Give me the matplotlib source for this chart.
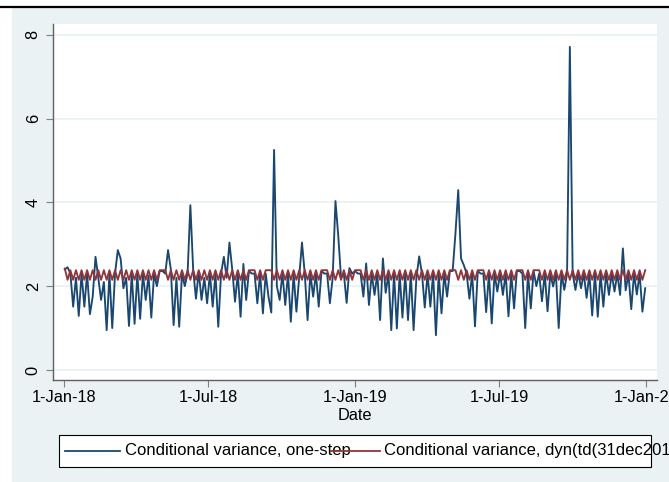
import numpy as np
import pandas as pd
import matplotlib
matplotlib.use("Agg")
import matplotlib.pyplot as plt
import matplotlib.dates as mdates
from matplotlib.patches import Rectangle

plt.rcParams['font.family'] = ['Liberation Sans', 'DejaVu Sans']

# ---- data (weekly readings: first point ~day 1 of week, second ~mid-week) ----
week_start = pd.date_range('2018-01-01', periods=105, freq='7D')

blue_a = [2.40, 2.30, 2.20, 2.30, 2.30, 1.75, 2.20, 2.10, 2.30, 2.30,
          2.66, 2.20, 2.30, 2.30, 2.30, 2.25, 2.30, 2.36, 2.30, 2.40,
          2.20, 2.30, 2.30, 2.40, 2.35, 2.20, 2.30, 2.30, 2.30, 2.20,
          2.40, 2.30, 2.53, 2.36, 2.30, 2.30, 2.30, 1.37, 2.00, 2.30,
          2.30, 2.30, 2.20, 2.30, 2.30, 2.30, 2.36, 2.30, 2.20, 3.20,
          2.30, 2.43, 2.36, 2.30, 2.54, 2.30, 2.30, 2.66, 2.30, 2.30,
          2.30, 2.30, 2.30, 2.20, 2.30, 2.30, 2.30, 2.30, 2.30, 2.36,
          3.26, 2.66, 2.30, 2.30, 2.36, 2.30, 2.30, 2.30, 2.30, 2.30,
          2.30, 2.36, 2.30, 2.30, 2.36, 2.30, 2.30, 2.30, 2.30, 2.30,
          2.30, 2.30, 2.30, 2.30, 2.30, 2.30, 2.30, 2.30, 2.30, 2.30,
          2.90, 2.30, 2.30, 2.30, 1.95]
blue_b = [2.45, 1.51, 1.29, 1.51, 1.33, 2.70, 1.67, 0.95, 1.00, 2.86,
          1.95, 1.05, 1.10, 1.22, 1.67, 1.25, 2.00, 2.36, 2.86, 1.07,
          1.03, 2.00, 3.93, 1.70, 1.67, 1.59, 1.51, 1.03, 2.70, 3.04,
          1.63, 1.27, 1.67, 2.30, 1.59, 1.35, 1.75, 5.25, 1.67, 1.55,
          1.15, 1.39, 3.04, 1.19, 1.75, 1.51, 2.30, 1.59, 4.03, 2.20,
          1.60, 2.30, 2.30, 1.75, 1.55, 1.79, 1.19, 1.84, 0.95, 0.99,
          1.25, 1.19, 0.95, 2.71, 1.49, 1.51, 0.83, 1.35, 1.75, 2.36,
          4.29, 2.50, 1.70, 1.04, 2.30, 1.38, 1.11, 1.87, 1.79, 1.28,
          1.47, 2.36, 1.00, 1.47, 2.00, 1.64, 1.40, 1.99, 1.00, 1.91,
          7.71, 1.91, 1.95, 1.72, 1.30, 1.27, 1.51, 1.79, 1.87, 1.79,
          1.90, 1.45, 1.80, 1.39]

red_a = [2.42, 2.38, 2.38, 2.38, 2.38, 2.38, 2.38, 2.38, 2.38, 2.38,
         2.38, 2.38, 2.38, 2.38, 2.38, 2.38, 2.38, 2.38, 2.38, 2.38,
         2.38, 2.38, 2.38, 2.38, 2.38, 2.38, 2.38, 2.38, 2.38, 2.38,
         2.38, 2.38, 2.38, 2.38, 2.38, 2.38, 2.38, 2.38, 2.38, 2.38,
         2.38, 2.38, 2.38, 2.38, 2.38, 2.38, 2.38, 2.38, 2.38, 2.38,
         2.38, 2.38, 2.38, 2.38, 2.38, 2.38, 2.38, 2.38, 2.38, 2.38,
         2.38, 2.38, 2.38, 2.38, 2.38, 2.38, 2.38, 2.38, 2.38, 2.38,
         2.38, 2.38, 2.38, 2.38, 2.38, 2.38, 2.38, 2.38, 2.38, 2.38,
         2.38, 2.38, 2.38, 2.38, 2.38, 2.38, 2.38, 2.38, 2.38, 2.38,
         2.38, 2.38, 2.38, 2.38, 2.38, 2.38, 2.38, 2.38, 2.38, 2.38,
         2.38, 2.38, 2.38, 2.38, 2.38]
red_b = [2.15, 2.15, 2.15, 2.15, 2.15, 2.15, 2.15, 2.15, 2.15, 2.15,
         2.15, 2.15, 2.15, 2.15, 2.15, 2.15, 2.15, 2.38, 2.15, 2.15,
         2.15, 2.15, 2.15, 2.15, 2.15, 2.15, 2.15, 2.15, 2.15, 2.15,
         2.15, 2.15, 2.15, 2.38, 2.15, 2.15, 2.38, 2.15, 2.15, 2.15,
         2.15, 2.15, 2.15, 2.15, 2.15, 2.15, 2.38, 2.15, 2.15, 2.15,
         2.15, 2.15, 2.38, 2.15, 2.15, 2.15, 2.15, 2.15, 2.15, 2.15,
         2.15, 2.15, 2.15, 2.15, 2.15, 2.15, 2.15, 2.15, 2.15, 2.38,
         2.15, 2.15, 2.15, 2.15, 2.38, 2.15, 2.15, 2.15, 2.15, 2.15,
         2.15, 2.38, 2.15, 2.15, 2.38, 2.15, 2.15, 2.15, 2.15, 2.15,
         2.15, 2.15, 2.15, 2.15, 2.15, 2.15, 2.15, 2.15, 2.15, 2.15,
         2.15, 2.15, 2.15, 2.15]

tick_dates = ['2018-01-01', '2018-07-01', '2019-01-01', '2019-07-01', '2020-01-01']
tick_labels = ['1-Jan-18', '1-Jul-18', '1-Jan-19', '1-Jul-19', '1-Jan-20']
y_ticks = [0, 2, 4, 6, 8]
legend_labels = ['Conditional variance, one-step',
                 'Conditional variance, dyn(td(31dec2019))']
x_label = 'Date'


def interleave(a, b):
    xs, ys = [], []
    for i, ws in enumerate(week_start):
        xs.append(ws + pd.Timedelta(days=1))
        ys.append(a[i])
        if i < len(b):
            xs.append(ws + pd.Timedelta(hours=108))
            ys.append(b[i])
    return xs, ys


bx, by = interleave(blue_a, blue_b)
rx, ry = interleave(red_a, red_b)

NAVY = '#1A476F'
MAROON = '#90353B'
BG = '#EAF2F3'
W, H = 669, 482
FS = 11.8
LFS = 12.0

fig = plt.figure(figsize=(W / 100, H / 100), dpi=100)
fig.patch.set_facecolor('white')

# background / frame axes in pixel coordinates
bg = fig.add_axes([0, 0, 1, 1], zorder=0)
bg.set_xlim(0, W)
bg.set_ylim(H, 0)
bg.axis('off')
bg.add_patch(Rectangle((12, 7.5), W - 12, H - 7.5, facecolor=BG, edgecolor='none'))
bg.plot([0, W], [6.5, 6.5], color='black', lw=1.6, solid_capstyle='butt')

# legend (manual, Stata-like overlapping keys)
bg.add_patch(Rectangle((59, 435), 592, 32, facecolor='white', edgecolor='black', lw=0.8))
ly = 451.0
bg.plot([65, 120], [ly, ly], color=NAVY, lw=1.3)
bg.text(125, ly, legend_labels[0], fontsize=LFS, va='center', ha='left', color='black')
bg.plot([331, 380], [ly, ly], color=MAROON, lw=1.3, zorder=5)
bg.text(384, ly, legend_labels[1], fontsize=LFS, va='center', ha='left', color='black')

# main plot
ax = fig.add_axes([53 / W, 1 - 380 / H, (657 - 53) / W, (380 - 24) / H], zorder=1)
ax.set_facecolor('white')
ax.plot(bx, by, color=NAVY, lw=1.35, zorder=3)
ax.plot(rx, ry, color=MAROON, lw=1.35, zorder=4)

x0 = pd.Timestamp('2018-01-01')
ax.set_xlim(x0 - pd.Timedelta(days=13.8), x0 + pd.Timedelta(days=743.8))
ax.set_ylim(-0.24, 8.255)

ax.set_yticks(y_ticks)
ax.set_yticklabels([str(v) for v in y_ticks], rotation=90, va='center')
ax.set_xticks(pd.to_datetime(tick_dates))
ax.set_xticklabels(tick_labels)
ax.yaxis.grid(True, color=BG, lw=1.3, zorder=0)
ax.set_axisbelow(True)

for s in ['top', 'right']:
    ax.spines[s].set_visible(False)
for s in ['left', 'bottom']:
    ax.spines[s].set_color('#606060')
    ax.spines[s].set_linewidth(1.0)

ax.tick_params(axis='y', length=5, width=0.8, color='#808080', pad=3.9, labelsize=FS)
ax.tick_params(axis='x', length=5, width=0.8, color='#808080', pad=2.4, labelsize=FS)
ax.set_xlabel(x_label, fontsize=FS, labelpad=2.0)

fig.savefig('out.png', dpi=100, facecolor='white')
